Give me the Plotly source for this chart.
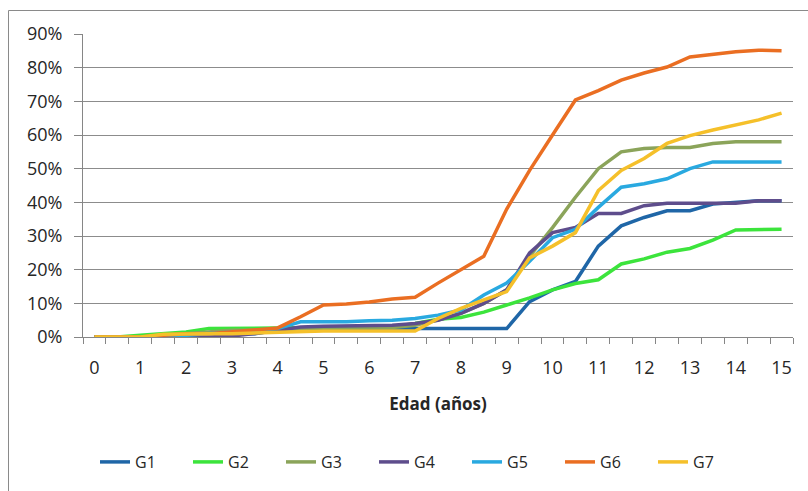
import plotly.graph_objects as go

# Edad en años (cada medio año)
edad = [0, 0.5, 1, 1.5, 2, 2.5, 3, 3.5, 4, 4.5, 5, 5.5, 6, 6.5, 7, 7.5,
        8, 8.5, 9, 9.5, 10, 10.5, 11, 11.5, 12, 12.5, 13, 13.5, 14, 14.5, 15]

# Porcentaje acumulado por grupo
g1 = [0, 0, 0, 0.5, 1, 1, 1, 1, 2, 2.5, 2.5, 2.5, 2.5, 2.5, 2.5, 2.5,
      2.5, 2.5, 2.5, 10.5, 14, 16.5, 27, 33, 35.5, 37.5, 37.5, 39.5, 40, 40.5, 40.5]
g2 = [0, 0, 0.5, 1, 1.5, 2.5, 2.6, 2.6, 2.7, 2.8, 2.8, 2.8, 2.8, 3, 4, 5.3,
      5.8, 7.4, 9.5, 11.6, 14, 15.9, 17, 21.7, 23.2, 25.2, 26.3, 28.8, 31.8, 32, 32]
g3 = [0, 0, 0, 0.5, 1, 1.5, 2, 2, 2, 2.5, 2.8, 2.8, 2.8, 2.8, 3.5, 5,
      7, 10, 14, 24, 32.5, 41.5, 50, 55, 56, 56.3, 56.3, 57.5, 58, 58, 58]
g4 = [0, 0, 0, 0, 0, 0, 0.3, 1, 2, 3, 3.2, 3.3, 3.5, 3.5, 4, 5,
      7, 10, 14, 25, 31, 32.5, 36.7, 36.7, 39, 39.7, 39.7, 39.7, 39.7, 40.5, 40.5]
g5 = [0, 0, 0, 0, 0.5, 1, 1.5, 2, 2.5, 4.5, 4.5, 4.5, 4.8, 5, 5.5, 6.5,
      8, 12.5, 16, 22.5, 29.5, 32, 38.5, 44.5, 45.5, 47, 50, 52, 52, 52, 52]
g6 = [0, 0, 0, 0.5, 1, 1, 1.5, 2, 2.7, 6, 9.5, 9.8, 10.4, 11.3, 11.8, 16,
      19.9, 24, 38, 49.5, 60, 70.4, 73.2, 76.3, 78.4, 80.2, 83.2, 84, 84.7, 85.2, 85]
g7 = [0, 0, 0, 0.8, 1, 1, 1, 1.2, 1.5, 1.7, 1.8, 1.8, 1.8, 1.8, 1.8, 5.5,
      8.5, 11, 13.5, 23.5, 27, 31, 43.5, 49.5, 53, 57.5, 59.8, 61.5, 63, 64.5, 66.5]

nombres = ["G1", "G2", "G3", "G4", "G5", "G6", "G7"]
series = [g1, g2, g3, g4, g5, g6, g7]
colores = ["#1F66A7", "#3CE43C", "#8BA45A", "#5E4D8C", "#29A9E0", "#EA6E22", "#F5C02A"]

etiquetas_x = list(range(0, 16))
ticks_y = list(range(0, 91, 10))

W, H = 808, 491
L, R, T, B = 83, 15, 34, 154
pw, ph = W - L - R, H - T - B


def px_x(p):
    return (p - L) / pw


def px_y(p):
    return (H - B - p) / ph


fig = go.Figure()
for nombre, valores, color in zip(nombres, series, colores):
    fig.add_trace(go.Scatter(
        x=edad, y=valores, name=nombre, mode="lines",
        line=dict(color=color, width=3.5),
    ))

fig.update_layout(
    width=W, height=H,
    margin=dict(l=L, r=R, t=T, b=B),
    paper_bgcolor="white", plot_bgcolor="white",
    font=dict(family="Open Sans, sans-serif", color="#262626"),
    showlegend=True,
    legend=dict(
        orientation="h", x=px_x(95), xanchor="left",
        y=px_y(462), yanchor="middle",
        font=dict(size=16, color="#262626"),
        entrywidth=48, entrywidthmode="pixels",
        bgcolor="rgba(0,0,0,0)",
    ),
    shapes=[dict(
        type="rect", xref="paper", yref="paper",
        x0=px_x(8.5), x1=px_x(812), y0=px_y(496), y1=px_y(10.5),
        line=dict(color="#8a8a8a", width=1), fillcolor="rgba(0,0,0,0)",
        layer="below",
    )],
)

fig.update_xaxes(
    range=[-0.25, 15.25],
    tickvals=etiquetas_x, ticktext=[str(v) for v in etiquetas_x],
    ticks="", ticklabelstandoff=14,
    tickfont=dict(size=18, color="#262626"),
    showgrid=False, zeroline=False,
    showline=True, linecolor="#868686", linewidth=1,
    minor=dict(ticks="outside", tick0=0.25, dtick=0.5, ticklen=6,
               tickcolor="#868686", tickwidth=1, showgrid=False),
    title=dict(text="<b>Edad (años)</b>", font=dict(size=17, color="#262626"),
               standoff=20),
)

fig.update_yaxes(
    range=[0, 90],
    tickvals=ticks_y, ticktext=[f"{v}%" for v in ticks_y],
    ticks="outside", ticklen=8, tickcolor="#868686", tickwidth=1,
    ticklabelstandoff=8,
    tickfont=dict(size=18, color="#262626"),
    showgrid=True, gridcolor="#8c8c8c", gridwidth=1,
    zeroline=False,
    showline=True, linecolor="#868686", linewidth=1,
)

fig.write_html("out.html")
